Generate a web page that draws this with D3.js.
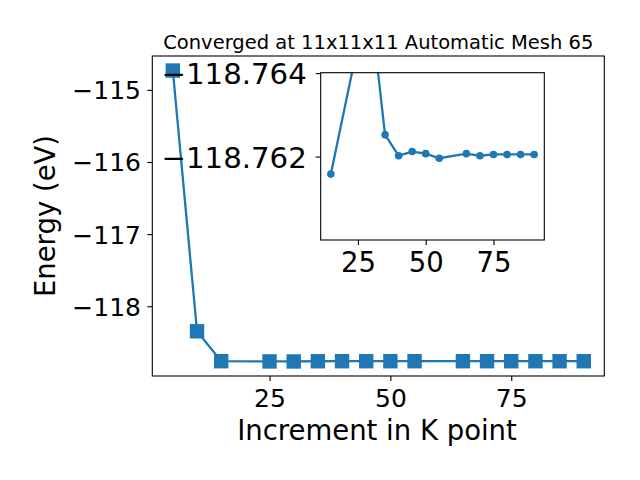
<!DOCTYPE html>
<html>
	<head>
		<meta charset="utf-8">
		<style>
			body { margin: 0; background: white; }
			text { font-family: "DejaVu Sans", sans-serif; }
		</style>
	</head>
	<body>
		<script src="https://cdn.jsdelivr.net/npm/d3@7"></script>

		<div id="canvas"></div>

		<script>
				var width = 640;
				var height = 480;

				// k point increments and total energies (eV)
				var kpoints = [5, 10, 15, 25, 30, 35, 40, 45, 50, 55, 65, 70, 75, 80, 85, 90];
				var energy = [-114.732, -118.347, -118.76158, -118.7647, -118.7654, -118.76252, -118.76202,
					-118.76212, -118.76207, -118.76196, -118.76207, -118.76202, -118.76205, -118.76205,
					-118.76205, -118.76205];
				var xTicks = [25, 50, 75];
				var yTicks = [-115, -116, -117, -118];
				var insetYTicks = [-118.764, -118.762];
				var insetYLim = [-118.764, -118.760];
				var insetStart = 2;   // inset shows from 15 onward

				var title = "Converged at 11x11x11 Automatic Mesh 65";
				var blue = "#1f77b4";

				var points = kpoints.map(function (k, i) { return {k: k, e: energy[i]}; });
				var insetPoints = points.slice(insetStart);

				function padded (ext) {
					var m = (ext[1] - ext[0]) * 0.05;
					return [ext[0] - m, ext[1] + m];
				}

				var main = {left: 152.3, right: 604.3, top: 56, bottom: 376};
				var ins = {left: 320.7, right: 544.3, top: 72.7, bottom: 240};

				var x = d3.scaleLinear()
					.domain(padded(d3.extent(kpoints)))
					.range([main.left, main.right]);
				var y = d3.scaleLinear()
					.domain(padded(d3.extent(energy)))
					.range([main.bottom, main.top]);

				var xi = d3.scaleLinear()
					.domain(padded(d3.extent(insetPoints, function (d) { return d.k; })))
					.range([ins.left, ins.right]);
				// inset axis runs downward as in the original
				var yi = d3.scaleLinear()
					.domain([insetYLim[0] - 0.00001, insetYLim[1]])
					.range([ins.top, ins.bottom]);

				var svg = d3.select("#canvas")
					.append("svg")
					.attr("width", width)
					.attr("height", height);

				// main axes
				var line = d3.line()
					.x(function (d) { return x(d.k); })
					.y(function (d) { return y(d.e); });

				svg.append("path")
					.datum(points)
					.attr("d", line)
					.attr("fill", "none")
					.attr("stroke", blue)
					.attr("stroke-width", 2.3);

				svg.selectAll(".sq")
					.data(points)
					.enter()
					.append("rect")
					.attr("class", "sq")
					.attr("x", function (d) { return x(d.k) - 7.2; })
					.attr("y", function (d) { return y(d.e) - 7.2; })
					.attr("width", 14.4)
					.attr("height", 14.4)
					.attr("fill", blue);

				svg.append("rect")
					.attr("x", main.left)
					.attr("y", main.top)
					.attr("width", main.right - main.left)
					.attr("height", main.bottom - main.top)
					.attr("fill", "none")
					.attr("stroke", "black")
					.attr("stroke-width", 1.1);

				var gx = svg.append("g")
					.attr("transform", "translate(0," + main.bottom + ")")
					.call(d3.axisBottom(x).tickValues(xTicks).tickSize(5).tickPadding(8).tickFormat(d3.format("d")));
				var gy = svg.append("g")
					.attr("transform", "translate(" + main.left + ",0)")
					.call(d3.axisLeft(y).tickValues(yTicks).tickSize(5).tickPadding(6.3).tickFormat(d3.format("d")));

				[gx, gy].forEach(function (g) {
					g.select(".domain").remove();
					g.selectAll("line").attr("stroke-width", 1.1);
					g.selectAll("text").attr("font-size", 25).attr("font-family", "DejaVu Sans").attr("fill", "black");
				});
				gy.selectAll("text").attr("dy", "0.36em");

				svg.append("text")
					.attr("x", (main.left + main.right) / 2)
					.attr("y", 49)
					.attr("text-anchor", "middle")
					.attr("font-size", 19.5)
					.text(title);

				svg.append("text")
					.attr("x", 377)
					.attr("y", 440)
					.attr("text-anchor", "middle")
					.attr("font-size", 27.5)
					.text("Increment in K point");

				svg.append("text")
					.attr("transform", "translate(55," + ((main.top + main.bottom) / 2) + ") rotate(-90)")
					.attr("text-anchor", "middle")
					.attr("font-size", 27.5)
					.text("Energy (eV)");

				// inset axes
				svg.append("rect")
					.attr("x", ins.left)
					.attr("y", ins.top)
					.attr("width", ins.right - ins.left)
					.attr("height", ins.bottom - ins.top)
					.attr("fill", "white");

				svg.append("clipPath")
					.attr("id", "inset_clip")
					.append("rect")
					.attr("x", ins.left)
					.attr("y", ins.top)
					.attr("width", ins.right - ins.left)
					.attr("height", ins.bottom - ins.top);

				var insetGroup = svg.append("g").attr("clip-path", "url(#inset_clip)");

				insetGroup.append("path")
					.datum(insetPoints)
					.attr("d", d3.line()
						.x(function (d) { return xi(d.k); })
						.y(function (d) { return yi(d.e); }))
					.attr("fill", "none")
					.attr("stroke", blue)
					.attr("stroke-width", 2.3);

				insetGroup.selectAll("circle")
					.data(insetPoints)
					.enter()
					.append("circle")
					.attr("cx", function (d) { return xi(d.k); })
					.attr("cy", function (d) { return yi(d.e); })
					.attr("r", 3.8)
					.attr("fill", blue);

				svg.append("rect")
					.attr("x", ins.left)
					.attr("y", ins.top)
					.attr("width", ins.right - ins.left)
					.attr("height", ins.bottom - ins.top)
					.attr("fill", "none")
					.attr("stroke", "black")
					.attr("stroke-width", 1.1);

				var gxi = svg.append("g")
					.attr("transform", "translate(0," + ins.bottom + ")")
					.call(d3.axisBottom(xi).tickValues(xTicks).tickSize(5).tickPadding(7.2).tickFormat(d3.format("d")));
				var gyi = svg.append("g")
					.attr("transform", "translate(" + ins.left + ",0)")
					.call(d3.axisLeft(yi).tickValues(insetYTicks).tickSize(5).tickPadding(9).tickFormat(d3.format(".3f")));

				[gxi, gyi].forEach(function (g) {
					g.select(".domain").remove();
					g.selectAll("line").attr("stroke-width", 1.1);
					g.selectAll("text").attr("font-family", "DejaVu Sans").attr("fill", "black");
				});
				gxi.selectAll("text").attr("font-size", 27.5);
				gyi.selectAll("text").attr("font-size", 29.2).attr("dy", "0.36em");
		</script>
	</body>
</html>
